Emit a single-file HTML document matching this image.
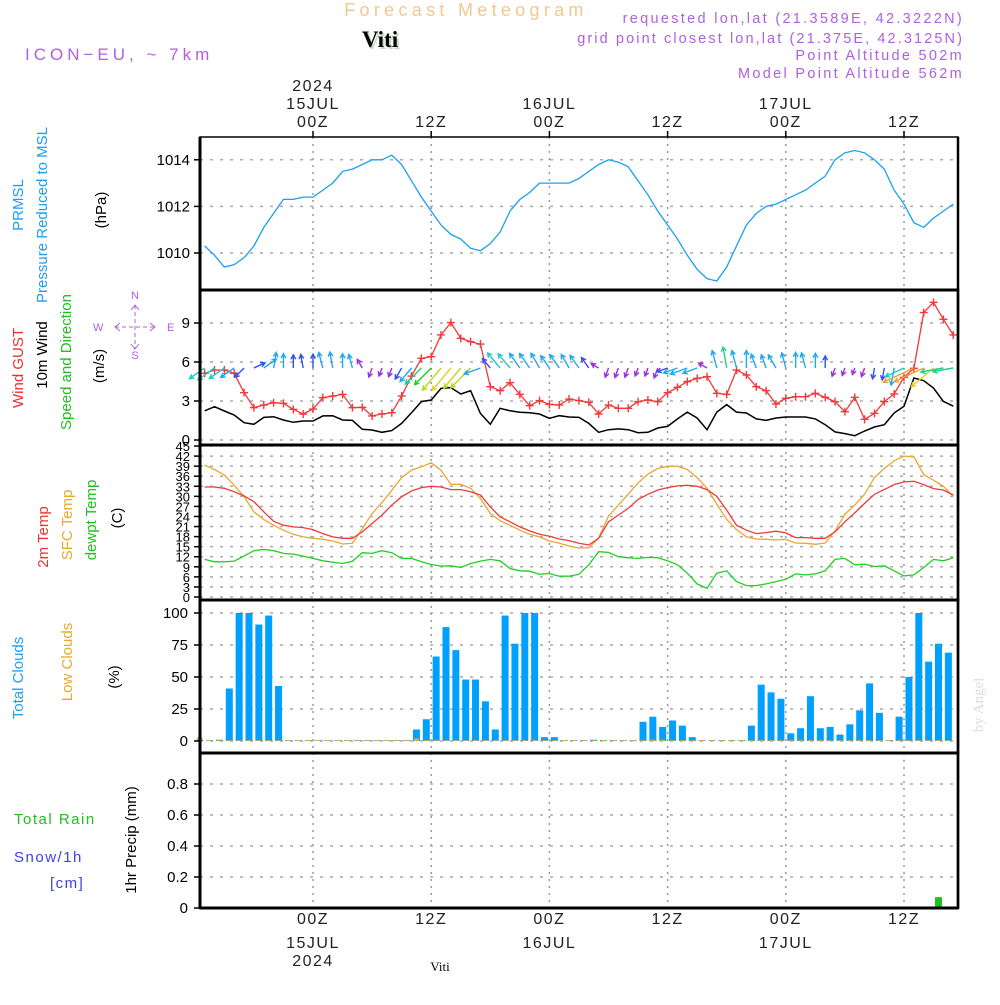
<!DOCTYPE html>
<html><head><meta charset="utf-8">
<style>
html,body{margin:0;padding:0;background:#fff;}
body{width:1000px;height:1000px;overflow:hidden;font-family:"Liberation Sans",sans-serif;}
svg text{font-family:"Liberation Sans",sans-serif;}
</style></head>
<body>
<svg id="chart" width="1000" height="1000" viewBox="0 0 1000 1000" xmlns="http://www.w3.org/2000/svg">
<g id="gridLayer"></g>
<g id="dataLayer"></g>
<g id="frameLayer"></g>
<g id="textLayer">
  <text x="466" y="16" text-anchor="middle" font-size="18" fill="#f2c98c" letter-spacing="4.3">Forecast Meteogram</text>
  <text x="382" y="49" text-anchor="middle" font-size="23" font-weight="bold" fill="#c8d8c0" style="font-family:'Liberation Serif',serif">Viti</text>
  <text x="380" y="47" text-anchor="middle" font-size="23" font-weight="bold" fill="#000" style="font-family:'Liberation Serif',serif">Viti</text>
  <text x="25" y="60" font-size="17" fill="#b060e0" letter-spacing="4">ICON−EU, ~ 7km</text>
  <text x="964" y="23" text-anchor="end" font-size="14.5" fill="#b060e0" letter-spacing="2.3">requested lon,lat (21.3589E, 42.3222N)</text>
  <text x="964" y="43" text-anchor="end" font-size="14.5" fill="#b060e0" letter-spacing="2.1">grid point closest lon,lat (21.375E, 42.3125N)</text>
  <text x="964" y="60" text-anchor="end" font-size="14.5" fill="#b060e0" letter-spacing="2.3">Point Altitude 502m</text>
  <text x="964" y="78" text-anchor="end" font-size="14.5" fill="#b060e0" letter-spacing="2.3">Model Point Altitude 562m</text>

  <text transform="translate(23,205) rotate(-90)" text-anchor="middle" font-size="15" fill="#1aa0f0">PRMSL</text>
  <text transform="translate(47,215) rotate(-90)" text-anchor="middle" font-size="15" fill="#1aa0f0">Pressure Reduced to MSL</text>
  <text transform="translate(106,210) rotate(-90)" text-anchor="middle" font-size="15" fill="#000">(hPa)</text>

  <text transform="translate(23,368) rotate(-90)" text-anchor="middle" font-size="15" fill="#f03030">Wind GUST</text>
  <text transform="translate(47,355) rotate(-90)" text-anchor="middle" font-size="15" fill="#000">10m Wind</text>
  <text transform="translate(71,362) rotate(-90)" text-anchor="middle" font-size="15" fill="#20c020">Speed and Direction</text>
  <text transform="translate(104,366) rotate(-90)" text-anchor="middle" font-size="15" fill="#000">(m/s)</text>
  <g fill="#b060e0" font-size="11">
    <text x="135" y="299" text-anchor="middle">N</text>
    <text x="93" y="331">W</text>
    <text x="167" y="331">E</text>
    <text x="135" y="359" text-anchor="middle">S</text>
    <path d="M115,327H155M135,305V349" stroke="#b060e0" stroke-width="1" stroke-dasharray="4,3" fill="none"/>
    <path d="M120,323L115,327L120,331M150,323L155,327L150,331M131,310L135,305L139,310M131,344L135,349L139,344" stroke="#b060e0" stroke-width="1" fill="none"/>
  </g>

  <text transform="translate(48,537) rotate(-90)" text-anchor="middle" font-size="15" fill="#f03030">2m Temp</text>
  <text transform="translate(72,525) rotate(-90)" text-anchor="middle" font-size="15" fill="#e8a830">SFC Temp</text>
  <text transform="translate(96,520) rotate(-90)" text-anchor="middle" font-size="15" fill="#20c020">dewpt Temp</text>
  <text transform="translate(122,518) rotate(-90)" text-anchor="middle" font-size="15" fill="#000">(C)</text>

  <text transform="translate(23,678) rotate(-90)" text-anchor="middle" font-size="15" fill="#1aa0f0">Total Clouds</text>
  <text transform="translate(72,662) rotate(-90)" text-anchor="middle" font-size="15" fill="#e8a830">Low Clouds</text>
  <text transform="translate(119,677) rotate(-90)" text-anchor="middle" font-size="15" fill="#000">(%)</text>

  <text x="14" y="824" font-size="15" fill="#20c020" letter-spacing="1.5">Total  Rain</text>
  <text x="14" y="862" font-size="15" fill="#4040f0" letter-spacing="1.5">Snow/1h</text>
  <text x="50" y="888" font-size="15" fill="#4040f0" letter-spacing="1.5">[cm]</text>
  <text transform="translate(136,840) rotate(-90)" text-anchor="middle" font-size="15" fill="#000">1hr Precip (mm)</text>

  <text transform="translate(983,705) rotate(-90)" text-anchor="middle" font-size="15" fill="#d8e0d8" style="font-family:'Liberation Serif',serif">by Angel</text>
  <text x="440" y="971" text-anchor="middle" font-size="13" fill="#000" style="font-family:'Liberation Serif',serif">Viti</text>
</g>
</svg>
<script>
// ---- data (hourly, first point 13Z 14JUL) ----
const startHour = -11;
const pressureValues = [1010.3,1009.9,1009.4,1009.5,1009.8,1010.3,1011.1,1011.7,1012.3,1012.3,1012.4,1012.4,1012.7,1013.0,1013.5,1013.6,1013.8,1014.0,1014.0,1014.2,1013.8,1013.1,1012.4,1011.8,1011.2,1010.8,1010.6,1010.2,1010.1,1010.4,1010.9,1011.8,1012.3,1012.6,1013.0,1013.0,1013.0,1013.0,1013.2,1013.5,1013.8,1014.0,1013.9,1013.7,1013.1,1012.5,1011.8,1011.2,1010.6,1009.9,1009.3,1008.9,1008.8,1009.4,1010.3,1011.2,1011.7,1012.0,1012.1,1012.3,1012.5,1012.7,1013.0,1013.3,1014.0,1014.3,1014.4,1014.3,1014.0,1013.6,1012.7,1012.1,1011.3,1011.1,1011.5,1011.8,1012.1];
const windSpeed = [2.25,2.56,2.23,1.92,1.33,1.21,1.74,1.79,1.54,1.36,1.46,1.46,1.85,1.87,1.54,1.51,0.82,0.77,0.59,0.72,1.28,2.10,2.95,3.08,3.97,4.03,3.54,3.79,2.05,1.21,2.44,2.25,2.13,2.10,2.0,1.67,1.87,1.77,1.74,1.28,
 0.59,0.79,0.85,0.79,0.56,0.59,0.92,1.05,1.62,2.15,1.69,0.79,2.15,2.72,2.15,2.08,1.62,1.51,1.69,1.77,1.77,1.77,1.62,1.18,0.62,0.49,0.33,0.69,1.0,1.18,2.08,2.59,4.77,4.56,4.0,2.97,2.6];
const windGust = [5.13,5.38,5.38,5.13,3.64,2.49,2.69,2.87,2.82,2.36,2.0,2.38,3.26,3.38,3.51,2.49,2.51,1.85,2.0,2.10,3.38,4.92,6.28,6.41,8.08,9.03,7.82,7.56,7.38,4.10,3.79,4.41,3.51,2.64,3.03,2.74,2.69,3.15,3.03,2.90,
 2.0,2.69,2.44,2.44,2.95,3.08,2.95,3.64,4.05,4.49,4.74,4.87,3.59,3.51,5.38,5.0,4.1,3.79,2.77,3.21,3.33,3.33,3.59,3.28,2.95,2.18,3.28,1.59,2.05,2.95,3.54,4.82,5.51,9.80,10.59,9.28,8.08];
const windDir = [235,235,235,235,225,65,55,10,0,0,350,0,345,350,0,345,330,200,200,200,210,220,225,225,220,220,220,225,250,320,320,320,325,325,330,325,325,330,325,325,
 300,200,200,200,200,200,200,250,250,250,250,300,345,350,345,0,340,340,330,345,0,345,0,0,200,200,200,200,190,190,190,245,245,245,230,260,260];
const temp2m = [32.8,32.8,32.4,31.4,30.1,28.4,25.4,22.6,21.4,20.9,20.7,20.1,18.9,17.9,17.5,17.5,19.4,21.9,24.4,27.4,29.9,31.6,32.6,33.0,32.8,32.0,32.0,31.4,30.4,26.9,23.9,22.4,20.9,19.7,18.7,18.1,17.3,16.8,16.0,15.5,
 17.5,22.4,24.4,26.4,29.1,30.6,31.9,32.6,33.1,33.3,33.0,32.0,30.0,25.9,21.4,19.9,18.9,19.2,19.6,19.1,17.7,17.7,17.5,17.5,19.4,22.4,25.1,27.9,30.6,32.0,33.5,34.3,34.5,33.5,32.3,31.9,30.4];
const tempSfc = [39.3,38.0,36.3,33.3,29.9,25.4,23.1,21.4,19.9,18.7,17.9,17.5,17.2,16.7,15.8,16.0,20.4,24.9,28.1,31.8,35.6,37.8,38.8,40.0,37.8,33.6,33.6,32.4,29.4,24.9,22.7,21.4,19.9,18.7,17.9,16.7,16.0,15.2,14.6,14.7,
 17.5,24.1,27.4,30.6,34.0,36.6,38.3,39.0,39.0,38.0,35.6,32.4,27.7,23.1,20.1,17.9,17.3,17.2,17.0,17.2,16.1,16.0,15.7,16.1,19.7,24.7,27.4,30.6,35.6,38.3,40.6,42.0,41.8,36.5,34.8,33.0,30.0];
const tempDew = [11.2,10.5,10.5,10.7,12.2,13.8,14.2,13.8,13.0,12.8,12.2,11.5,10.8,10.4,10.0,10.7,13.2,13.0,13.8,13.2,11.5,11.5,10.5,9.7,9.2,9.3,8.8,10.0,10.7,11.2,10.8,8.5,7.8,7.7,6.8,7.0,6.2,6.2,6.8,9.6,
 13.5,13.3,12.0,11.7,11.5,11.8,11.7,10.8,9.6,7.1,3.9,2.6,7.1,7.8,4.6,3.4,3.4,3.9,4.6,5.3,6.9,6.6,6.9,7.8,11.2,11.5,9.6,9.8,9.1,9.3,7.8,6.3,6.6,8.8,11.2,10.8,11.7];
const totalClouds = [1,0.5,1,41,100,100,91,98,43,0,0,0,0,0,0,0,0,0,0,0,0,0,9,17,66,89,71,48,48,31,9,98,76,100,100,3,3,0.5,0.5,0.5,
 1,0.5,0.5,0.5,0.5,15,19,11,16,12,3,0.5,0.5,0.5,0.5,0.5,12,44,38,33,6,10,35,10,11,5,13,24,45,22,0.5,19,50,100,62,76,69];
const lowClouds = [3,0,0,0,0,0,0,0,0,0,0,0,0,0,0,0,0,0,0,0,0,0,2,0,0,0,0,0,0,0,0,0,0,0,0,0,0,0,0,0,
 0,0,0,0,0,0,1,1,0,0,0,0,0,0,0,0,0,0,0,0,0,0,0,0,0,0,0,0,0,0,0,0,0,0,0,0,0];
const rainValues = [0,0,0,0,0,0,0,0,0,0,0,0,0,0,0,0,0,0,0,0,0,0,0,0,0,0,0,0,0,0,0,0,0,0,0,0,0,0,0,0,
 0,0,0,0,0,0,0,0,0,0,0,0,0,0,0,0,0,0,0,0,0,0,0,0,0,0,0,0,0,0,0,0,0,0,0,0.07,0];
const pressureTicks = [1010,1012,1014];
const windTicks = [0,3,6,9];
const tempTicks = [0,3,6,9,12,15,18,21,24,27,30,33,36,39,42,45];
const cloudTicks = [0,25,50,75,100];
const rainTicks = [0,0.2,0.4,0.6,0.8];
const timeTicksHours = [0,12,24,36,48,60];
const timeTickLabels = ["00Z","12Z","00Z","12Z","00Z","12Z"];
const dateLabels = ["15JUL","","16JUL","","17JUL",""];

// ---- axes ----
const L=200,R=958;
const X = h => 313 + h*9.85;
const Xk = k => X(startHour + k);
const Yp = p => 253 - (p-1010)*23.3;
const Yw = v => 440 - v*13;
const Yt = t => 597 - t*3.355;
const Yc = c => 741 - c*1.28;
const Yr = r => 908 - r*155;
const panels=[[137,290],[290,445],[445,600],[600,753],[753,908]];

const NS="http://www.w3.org/2000/svg";
function mk(tag, attrs, parent){const e=document.createElementNS(NS,tag);for(const a in attrs)e.setAttribute(a,attrs[a]);parent.appendChild(e);return e;}
const grid=document.getElementById('gridLayer'), data=document.getElementById('dataLayer'), frame=document.getElementById('frameLayer'), txt=document.getElementById('textLayer');

timeTicksHours.forEach(h=>{
  const g=mk('line',{x1:X(h),x2:X(h),y1:137,y2:908,stroke:'#999','stroke-dasharray':'2,5','stroke-width':1.5},grid);
  
  
});
function hgrid(vals,fy,x0){vals.forEach(v=>{
  const g=mk('line',{x1:L,x2:R,y1:fy(v),y2:fy(v),stroke:'#aaa','stroke-dasharray':'3,7','stroke-width':1.5},grid);
  
  
  const t=mk('text',{x:x0,y:fy(v)+5,'text-anchor':'end','font-size':15,fill:'#000'},txt);
  t.textContent=String(v);
  
  
  const tk=mk('line',{x1:L-6,x2:L,y1:fy(v),y2:fy(v),stroke:'#000','stroke-width':1.5},frame);
  
  
});}
hgrid(pressureTicks,Yp,190);
hgrid(windTicks,Yw,190);
hgrid(cloudTicks,Yc,188);
hgrid(rainTicks,Yr,188);
tempTicks.forEach(v=>{
  const g=mk('line',{x1:L,x2:R,y1:Yt(v),y2:Yt(v),stroke:'#aaa','stroke-dasharray':'3,7','stroke-width':1.5},grid);
  
  
  const t=mk('text',{x:190,y:Yt(v)+5,'text-anchor':'end','font-size':13,fill:'#000'},txt);
  t.textContent=String(v);
  
  
  const tk=mk('line',{x1:L-6,x2:L,y1:Yt(v),y2:Yt(v),stroke:'#000','stroke-width':1.5},frame);
  
  
});

timeTicksHours.forEach((h,i)=>{
  const a=mk('text',{x:X(h),y:127,'text-anchor':'middle','font-size':16,fill:'#222','letter-spacing':1.5},txt);
  a.textContent=timeTickLabels[i];
  
  
  const b=mk('text',{x:X(h),y:924,'text-anchor':'middle','font-size':16,fill:'#222','letter-spacing':1.5},txt);
  b.textContent=timeTickLabels[i];
  
  
  if(dateLabels[i]){
    const c=mk('text',{x:X(h),y:109,'text-anchor':'middle','font-size':16,fill:'#222','letter-spacing':1.5},txt);
    c.textContent=dateLabels[i];
    
    
    const d=mk('text',{x:X(h),y:948,'text-anchor':'middle','font-size':16,fill:'#222','letter-spacing':1.5},txt);
    d.textContent=dateLabels[i];
    
    
  }
  const t1=mk('line',{x1:X(h),x2:X(h),y1:131,y2:137,stroke:'#000','stroke-width':1.5},frame);
  
  
});
const y1=mk('text',{x:X(0),y:91,'text-anchor':'middle','font-size':16,fill:'#222','letter-spacing':1.5},txt);
y1.textContent='2024';


const y2=mk('text',{x:X(0),y:966,'text-anchor':'middle','font-size':16,fill:'#222','letter-spacing':1.5},txt);
y2.textContent='2024';



function line(vals,fy,color,name,w){
  const pts=vals.map((v,k)=>Xk(k).toFixed(1)+','+fy(v).toFixed(1)).join(' ');
  const p=mk('polyline',{points:pts,fill:'none',stroke:color,'stroke-width':w||1.3},data);
  
  
}
line(pressureValues,Yp,'#1aa0f0','pressure-line');
line(windSpeed,Yw,'#000','wind-speed-line',1.5);
line(windGust,Yw,'#f03a3a','wind-gust-line');
windGust.forEach((v,k)=>{
  const c=mk('path',{d:`M${Xk(k)-4},${Yw(v)}h8M${Xk(k)},${Yw(v)-4}v8`,stroke:'#f03a3a','stroke-width':1.4},data);
  
  
});
line(tempSfc,Yt,'#e8a830','sfc-temp-line');
line(temp2m,Yt,'#f03a3a','temp-2m-line');
line(tempDew,Yt,'#20d020','dewpoint-line');

function wcol(s){
  if(s<1.0)return '#9a30e0';
  if(s<1.5)return '#3050f0';
  if(s<2.2)return '#20a8f0';
  if(s<2.6)return '#20c8c8';
  if(s<3.0)return '#20d090';
  if(s<3.5)return '#20d020';
  if(s<4.0)return '#b8d820';
  if(s<4.5)return '#e8d020';
  return '#f0a030';
}
windDir.forEach((d,k)=>{
  const s=windSpeed[k], len=5+s*6, a=d*Math.PI/180;
  const x0=Xk(k), y0=368;
  const x1=x0+len*Math.sin(a), y1=y0-len*Math.cos(a);
  const ha=0.5, hl=5;
  const b1x=x1-hl*Math.sin(a-ha), b1y=y1+hl*Math.cos(a-ha);
  const b2x=x1-hl*Math.sin(a+ha), b2y=y1+hl*Math.cos(a+ha);
  const p=mk('path',{d:`M${x0},${y0}L${x1},${y1}M${b1x},${b1y}L${x1},${y1}L${b2x},${b2y}`,stroke:wcol(s),'stroke-width':1.4,fill:'none'},data);
  
  
});

totalClouds.forEach((v,k)=>{
  const x=Xk(k)-4.9;
  const h=Math.max(v*1.28,0.8);
  const r=mk('rect',{x:x-3.5,y:Yc(0)-h,width:7,height:h,fill:'#00a0ff'},data);
  
  
});
lowClouds.forEach((v,k)=>{
  const x=Xk(k)-4.9;
  const h=Math.max(v*1.28,0.8);
  const r=mk('rect',{x:x-2.5,y:Yc(0)-h,width:5,height:h,fill:'#e8a830'},data);
  
  
});
rainValues.forEach((v,k)=>{
  if(v<=0)return;
  const x=Xk(k)-4.9;
  const r=mk('rect',{x:x-3.5,y:Yr(v),width:7,height:v*155,fill:'#20c020'},data);
  
  
});
const base=mk('line',{x1:L,x2:R,y1:907,y2:907,stroke:'#20c020','stroke-width':1,'stroke-dasharray':'6,3'},data);



panels.forEach(([a,b],i)=>{
  const r=mk('rect',{x:L,y:a,width:R-L,height:b-a,fill:'none',stroke:'#000','stroke-width':i==0?1.5:2.5},frame);
  
  
});
[290,445,600,753,908].forEach(y=>{
  const l=mk('line',{x1:L,x2:R,y1:y,y2:y,stroke:'#000','stroke-width':3},frame);
  
  
});
const lv=mk('line',{x1:L,x2:L,y1:137,y2:908,stroke:'#000','stroke-width':3},frame);


const rv=mk('line',{x1:R,x2:R,y1:137,y2:908,stroke:'#000','stroke-width':2.5},frame);


</script>
</body></html>
